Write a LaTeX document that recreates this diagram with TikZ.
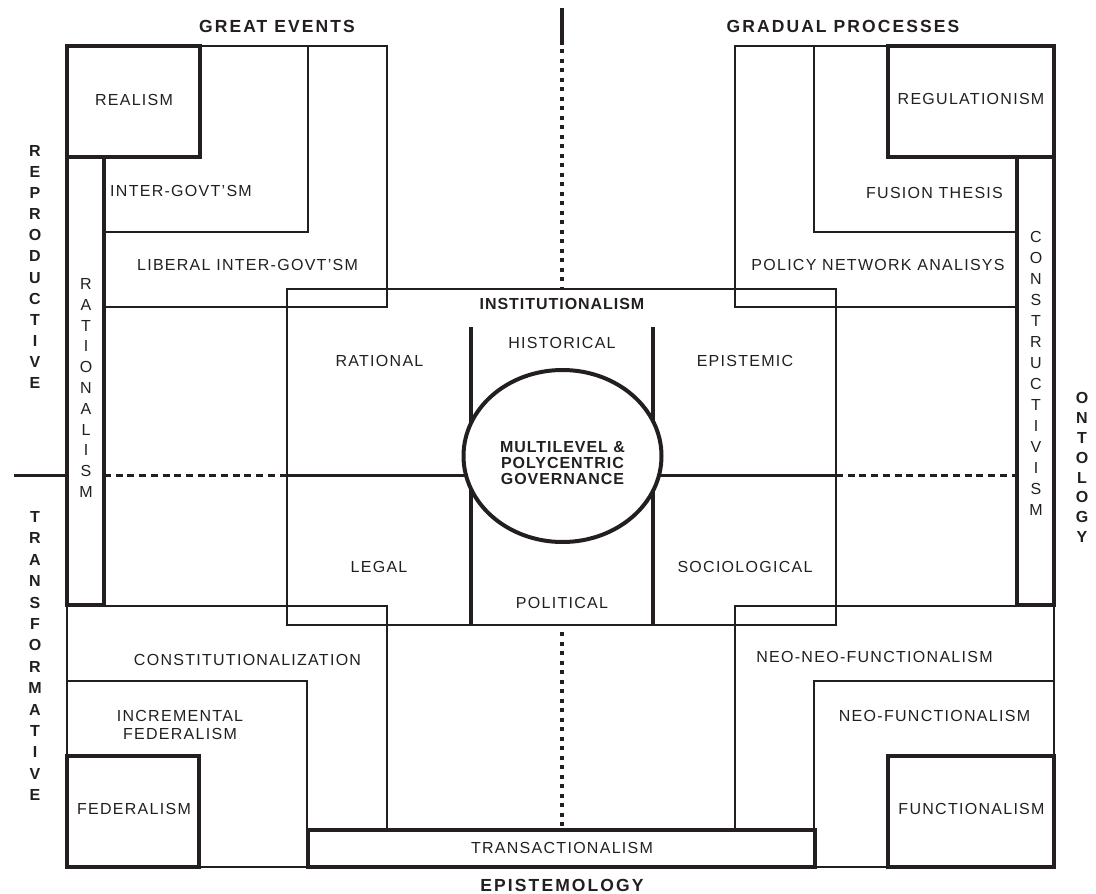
\documentclass[tikz,border=0pt]{standalone}
\usepackage{fontspec}
\setmainfont{Liberation Sans}
\newfontfamily\regfont[LetterSpace=8]{Liberation Sans}
\newfontfamily\inbfont[LetterSpace=6]{Liberation Sans}
\newfontfamily\axfont[LetterSpace=12]{Liberation Sans}
\usetikzlibrary{shapes.geometric}
\definecolor{ink}{HTML}{231F20}
\begin{document}
\begin{tikzpicture}[x=1pt,y=-1pt,
  box/.style={rectangle, anchor=north west, inner sep=0pt, outer sep=0pt, draw=ink},
  thinbox/.style={box, line width=2.7pt},
  thickbox/.style={box, line width=4.2pt},
  divline/.style={draw=ink, line width=4pt},
  midline/.style={draw=ink, line width=3.4pt},
  dashline/.style={draw=ink, line width=3pt, dash pattern=on 7pt off 4.7pt},
  dotline/.style={draw=ink, line width=4pt, dash pattern=on 4pt off 5.5pt},
  lab/.style={font={\regfont\fontsize{16}{18}\selectfont}, text=ink, inner sep=0pt, align=center},
  inb/.style={font={\inbfont\bfseries\fontsize{16}{16}\selectfont}, text=ink, inner sep=0pt, align=center},
  axis/.style={font={\axfont\bfseries\fontsize{17.5}{20}\selectfont}, text=ink, inner sep=0pt},
  vreg/.style={font={\regfont\fontsize{16}{#1}\selectfont}, text=ink, inner sep=0pt, align=center},
  vbold/.style={font={\axfont\bfseries\fontsize{16}{#1}\selectfont}, text=ink, inner sep=0pt, align=center}
]
\useasboundingbox (0,0) rectangle (1096,894);
\fill[white] (0,0) rectangle (1096,894);

% thin nested boxes
\node[thinbox, minimum width=320pt, minimum height=261pt] (lib) at (67,46) {};
\node[thinbox, minimum width=241pt, minimum height=186pt] (ig) at (67,46) {};
\node[thinbox, minimum width=319pt, minimum height=261pt] (pna) at (735,46) {};
\node[thinbox, minimum width=240pt, minimum height=186pt] (fus) at (814,46) {};
\node[thinbox, minimum width=320pt, minimum height=261pt] (con) at (67,606) {};
\node[thinbox, minimum width=240pt, minimum height=186pt] (inc) at (67,681) {};
\node[thinbox, minimum width=319pt, minimum height=261pt] (nnf) at (735,606) {};
\node[thinbox, minimum width=240pt, minimum height=186pt] (nf) at (814,681) {};
\node[thinbox, minimum width=549pt, minimum height=336pt] (inst) at (287,289) {};

% thick corner boxes
\node[thickbox, minimum width=133pt, minimum height=111pt] (real) at (67,46) {};
\node[thickbox, minimum width=166pt, minimum height=111pt] (regu) at (888,46) {};
\node[thickbox, minimum width=132pt, minimum height=111pt] (fed) at (67,756) {};
\node[thickbox, minimum width=166pt, minimum height=111pt] (fun) at (888,756) {};

% institutionalism dividers
\coordinate (hl) at (0,475.5);
\draw[divline] (471,327) -- (471,625);
\draw[divline] (653,327) -- (653,625);
\draw[midline] (inst.west |- hl) -- (inst.east |- hl);

% side bars
\node[thickbox, fill=white, minimum width=37pt, minimum height=448pt] (rat) at (67,157) {};
\node[thickbox, fill=white, minimum width=37pt, minimum height=448pt] (cons) at (1017,157) {};
\node[thickbox, fill=white, minimum width=507pt, minimum height=37pt] (trans) at (308,830) {};

% axis lines
\coordinate (hlstart) at (14,475.5);
\draw[midline] (hlstart) -- (rat.west |- hl);
\draw[dashline] (rat.east |- hl) -- (inst.west |- hl);
\draw[dashline] (inst.east |- hl) -- (cons.west |- hl);
\coordinate (vtop) at (562,8);
\coordinate (vtopend) at (562,45);
\coordinate (vdot) at (562,49);
\coordinate (vbot) at (562,632);
\draw[divline] (vtop) -- (vtopend);
\draw[dotline] (vdot) -- (vdot |- inst.north);
\draw[dotline] (vbot) -- (vbot |- trans.north);

% central ellipse
\node[ellipse, draw=ink, line width=4pt, fill=white, minimum width=198pt, minimum height=172pt, inner sep=0pt] (gov) at (562.5,456) {};
\node[inb] (govt) at (562.5,463) {MULTILEVEL \&\\POLYCENTRIC\\GOVERNANCE};

% axis labels
\node[axis] (ge) at (277,26) {GREAT EVENTS};
\node[axis] (gp) at (843,26) {GRADUAL PROCESSES};
\node[axis] (epi) at (562,885) {EPISTEMOLOGY};
\node[vbold=21.1] (repro) at (35,267) {R\\E\\P\\R\\O\\D\\U\\C\\T\\I\\V\\E};
\node[vbold=21.4] (transf) at (35,656) {T\\R\\A\\N\\S\\F\\O\\R\\M\\A\\T\\I\\V\\E};
\node[vbold=19.9] (onto) at (1082,467.5) {O\\N\\T\\O\\L\\O\\G\\Y};

% side bar labels
\node[vreg=20.8] (ratl) at (86,388) {R\\A\\T\\I\\O\\N\\A\\L\\I\\S\\M};
\node[vreg=21] (consl) at (1036,373.5) {C\\O\\N\\S\\T\\R\\U\\C\\T\\I\\V\\I\\S\\M};

% box labels
\node[lab] (reall) at (134,100) {REALISM};
\node[lab] (igl) at (181,191) {INTER-GOVT’SM};
\node[lab] (libl) at (247.5,265) {LIBERAL INTER-GOVT’SM};
\node[lab] (regul) at (971,99) {REGULATIONISM};
\node[lab] (fusl) at (934.5,193) {FUSION THESIS};
\node[lab] (pnal) at (878,265) {POLICY NETWORK ANALISYS};
\node[lab] (conl) at (247.5,660) {CONSTITUTIONALIZATION};
\node[lab] (incl) at (180,725) {INCREMENTAL\\FEDERALISM};
\node[lab] (fedl) at (134,809) {FEDERALISM};
\node[lab] (nnfl) at (874.5,657) {NEO-NEO-FUNCTIONALISM};
\node[lab] (nfl) at (934.5,716) {NEO-FUNCTIONALISM};
\node[lab] (funl) at (971.5,809) {FUNCTIONALISM};
\node[lab] (transl) at (562,848) {TRANSACTIONALISM};

% institutionalism labels
\node[inb] (instl) at (562,304) {INSTITUTIONALISM};
\node[lab] (hist) at (562,343) {HISTORICAL};
\node[lab] (ratn) at (379.5,361) {RATIONAL};
\node[lab] (epis) at (745,361) {EPISTEMIC};
\node[lab] (legal) at (379,567) {LEGAL};
\node[lab] (soc) at (745,567) {SOCIOLOGICAL};
\node[lab] (pol) at (562,603) {POLITICAL};
\end{tikzpicture}
\end{document}
